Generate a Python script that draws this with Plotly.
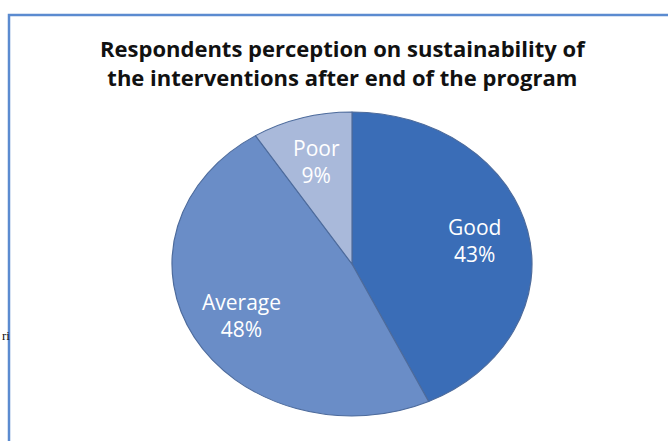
import math
import plotly.graph_objects as go

# Survey results: perception of sustainability after the program ends
categories = ["Good", "Average", "Poor"]
shares = [43, 48, 9]
slice_colors = ["#3a6db7", "#6a8dc7", "#a9b9da"]

title_text = ("Respondents perception on sustainability of<br>"
              "the interventions after end of the program")

W, H = 668, 441

# pie placement in pixels from the top-left corner; the pie is drawn
# as a circle of height `ry*2` and then widened to an ellipse
cx, cy = 352, 264
rx, ry = 180, 152
label_radius = 0.70

fig = go.Figure(
    go.Pie(
        labels=categories,
        values=shares,
        sort=False,
        direction="clockwise",
        rotation=0,
        marker=dict(colors=slice_colors, line=dict(color="#4d6b9c", width=1)),
        textinfo="none",
        hoverinfo="label+percent",
        showlegend=False,
        domain=dict(
            x=[(cx - ry) / W, (cx + ry) / W],
            y=[(H - cy - ry) / H, (H - cy + ry) / H],
        ),
    )
)

# slice labels placed along each slice's middle angle on the ellipse
annotations = []
total = sum(shares)
start = 0.0
for name, v in zip(categories, shares):
    mid = (start + v / 2) / total * 2 * math.pi
    start += v
    px = cx + label_radius * rx * math.sin(mid)
    py = cy - label_radius * ry * math.cos(mid)
    annotations.append(dict(
        text=f"{name}<br>{round(v / total * 100)}%",
        xref="paper", yref="paper", x=px / W, y=1 - py / H,
        xanchor="center", yanchor="middle", showarrow=False, align="center",
        font=dict(family="Open Sans", size=21, color="white"),
    ))

annotations += [
    dict(text=title_text, xref="paper", yref="paper",
         x=343 / W, y=1 - 63 / H, xanchor="center", yanchor="middle",
         showarrow=False, align="center",
         font=dict(family="Open Sans", size=22, color="#111111", weight="bold")),
    # fragment of surrounding page text at the left margin
    dict(text="ri", xref="paper", yref="paper",
         x=0, y=1 - 335 / H, xanchor="left", yanchor="middle",
         showarrow=False,
         font=dict(family="Liberation Serif", size=13, color="#111111")),
]

fig.update_layout(
    width=W,
    height=H,
    margin=dict(l=0, r=0, t=0, b=0),
    paper_bgcolor="white",
    plot_bgcolor="white",
    shapes=[
        # chart frame (continues past the right and bottom edges)
        dict(type="rect", xref="paper", yref="paper",
             x0=9 / W, x1=1.05, y0=-0.05, y1=1 - 15 / H,
             line=dict(color="#5b8bd0", width=2.5), fillcolor="rgba(0,0,0,0)",
             layer="below"),
    ],
    annotations=annotations,
)

# widen the slice shapes horizontally around the pie centre
stretch_js = """
var gd = document.getElementById('{plot_id}');
var paths = gd.querySelectorAll('.pielayer path.surface');
var x0 = Infinity, x1 = -Infinity;
paths.forEach(function (p) {
  var b = p.getBBox();
  x0 = Math.min(x0, b.x); x1 = Math.max(x1, b.x + b.width);
});
var c = (x0 + x1) / 2;
paths.forEach(function (p) {
  p.setAttribute('transform',
    'translate(' + c + ',0) scale(%s,1) translate(' + (-c) + ',0)');
});
""" % (rx / ry)

fig.write_html("out.html", post_script=stretch_js)
